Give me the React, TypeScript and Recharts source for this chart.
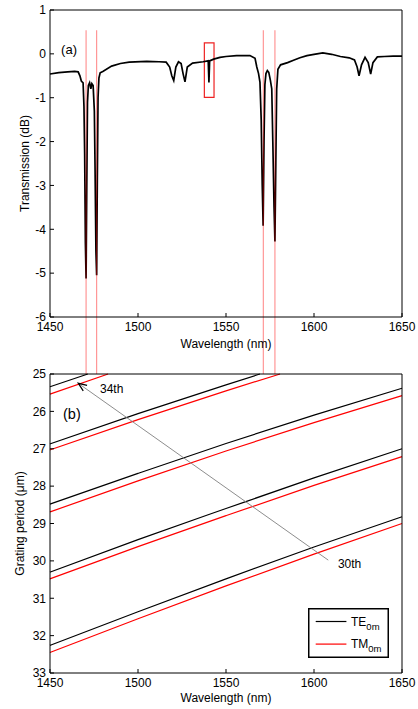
import React from 'react';
import {
  LineChart,
  Line,
  XAxis,
  YAxis,
  ReferenceLine,
  ReferenceArea,
  ReferenceDot,
  Legend,
} from 'recharts';

const FONT = '"Liberation Sans", Arial, Helvetica, sans-serif';

// ---- (a) measured transmission spectrum ----
const specWl = [
  1450, 1455, 1460, 1464, 1466, 1467, 1467.8, 1468.8, 1469.3, 1469.7, 1470.1, 1470.5, 1470.9,
  1471.3, 1471.8, 1472.5, 1473.2, 1473.8, 1474.5, 1475.2, 1475.6, 1476.1, 1476.5, 1476.9, 1477.3,
  1477.8, 1478.5, 1480, 1485, 1490, 1495, 1505, 1512, 1516, 1518, 1519.2, 1520.3, 1521.5, 1523,
  1524.5, 1525.6, 1526.7, 1528, 1531, 1537, 1539.9, 1540.3, 1540.7, 1543, 1546.6, 1550, 1556,
  1563.6, 1566.5, 1567.5, 1568.5, 1569.3, 1570, 1570.6, 1571.1, 1571.6, 1572.1, 1572.7, 1573.5,
  1574.3, 1575.2, 1576, 1576.6, 1577.3, 1577.8, 1578.3, 1578.8, 1579.5, 1581, 1585, 1588, 1592,
  1596, 1600, 1605, 1610, 1615, 1620, 1623, 1624.5, 1625.6, 1627, 1629, 1630.8, 1632.2, 1633.5,
  1636, 1640, 1645, 1650,
];
const specDb = [
  -0.46, -0.43, -0.41, -0.4, -0.41, -0.5, -0.62, -0.66, -1.2, -2.3, -4.3, -5.12, -3.0,
  -1.1, -0.72, -0.66, -0.8, -0.68, -0.72, -1.3, -2.6, -4.5, -5.05, -2.8, -1.0,
  -0.55, -0.43, -0.4, -0.28, -0.22, -0.19, -0.17, -0.18, -0.19, -0.3, -0.5, -0.61, -0.3, -0.18,
  -0.22, -0.45, -0.64, -0.3, -0.21, -0.18, -0.16, -0.65, -0.16, -0.12, -0.08, -0.06, -0.04,
  -0.04, -0.1, -0.3, -0.45, -0.65, -1.5, -3.0, -3.92, -2.0, -0.7, -0.45, -0.38,
  -0.42, -0.6, -0.8, -2.0, -3.5, -4.28, -2.5, -0.8, -0.35, -0.25, -0.2, -0.15, -0.09,
  -0.04, -0.01, 0.02, -0.01, -0.06, -0.09, -0.14, -0.3, -0.5, -0.25, -0.08, -0.2, -0.46, -0.2,
  -0.07, -0.06, -0.05, -0.05,
];
const specData = specWl.map((wl, i) => ({ wl, db: specDb[i] }));

const xTicks = [1450, 1500, 1550, 1600, 1650];
const dbTicks = [-6, -5, -4, -3, -2, -1, 0, 1];
const periodTicks = [25, 26, 27, 28, 29, 30, 31, 32, 33];

// red guide lines linking the dips to the 34th/33rd order curves
const guideWl = [1470.5, 1476.5, 1571.2, 1577.8];
const guideTopDb = 0.54;
const guideBottomDb = -7.3;

// red box around the small dip
const boxWl = [1537.7, 1543.2];
const boxDb = [-0.99, 0.25];

// ---- (b) grating period vs wavelength ----
const periodWl = [1450, 1500, 1550, 1600, 1650];
const te30 = [32.26, 31.36, 30.48, 29.63, 28.82];
const tm30 = [32.45, 31.55, 30.67, 29.82, 29.0];
const te31 = [30.3, 29.43, 28.6, 27.78, 27.0];
const tm31 = [30.48, 29.62, 28.79, 27.98, 27.21];
const te32 = [28.48, 27.66, 26.86, 26.1, 25.38];
const tm32 = [28.69, 27.86, 27.06, 26.3, 25.58];
const te33Wl = [1450, 1500, 1550, 1569.3];
const te33 = [26.87, 26.06, 25.29, 25.0];
const tm33Wl = [1450, 1500, 1550, 1580.7];
const tm33 = [27.03, 26.22, 25.45, 25.0];
const te34Wl = [1450, 1471.5];
const te34 = [25.34, 25.0];
const tm34Wl = [1450, 1483];
const tm34 = [25.54, 25.0];

// arrow from the 30th label to the 34th curve
const arrowFrom = { x: 1608.1, y: 29.98 };
const arrowTo = { x: 1466.1, y: 25.25 };

const mk = (wl: number[], p: number[]) => wl.map((w, i) => ({ wl: w, p: p[i] }));

const series = [
  { name: 'TE', color: '#000', data: mk(periodWl, te30), legend: true },
  { name: 'TM', color: '#ff0000', data: mk(periodWl, tm30), legend: true },
  { name: 'te31', color: '#000', data: mk(periodWl, te31) },
  { name: 'tm31', color: '#ff0000', data: mk(periodWl, tm31) },
  { name: 'te32', color: '#000', data: mk(periodWl, te32) },
  { name: 'tm32', color: '#ff0000', data: mk(periodWl, tm32) },
  { name: 'te33', color: '#000', data: mk(te33Wl, te33) },
  { name: 'tm33', color: '#ff0000', data: mk(tm33Wl, tm33) },
  { name: 'te34', color: '#000', data: mk(te34Wl, te34) },
  { name: 'tm34', color: '#ff0000', data: mk(tm34Wl, tm34) },
];
const legendNames = ['TE', 'TM'];

const axisLine = { stroke: '#000', strokeWidth: 1 };
const tickStyle = { fontSize: 12, fill: '#000', fontFamily: FONT };

const textAt = (txt: string, size: number) => (p: any) => (
  <text
    x={p.cx}
    y={p.cy}
    fontSize={size}
    fontFamily={FONT}
    fill="#000"
    dominantBaseline="central"
  >
    {txt}
  </text>
);

const xLabel = (offset: number) => (p: any) => {
  const vb = p.viewBox || {};
  return (
    <text
      x={vb.x + vb.width / 2}
      y={vb.y + offset}
      textAnchor="middle"
      fontSize={12}
      fontFamily={FONT}
      fill="#000"
    >
      Wavelength (nm)
    </text>
  );
};

const yLabel = (txt: string, cx: number) => (p: any) => {
  const vb = p.viewBox || {};
  const x = vb.x + cx;
  const y = vb.y + vb.height / 2;
  return (
    <text
      x={x}
      y={y}
      transform={`rotate(-90 ${x} ${y})`}
      textAnchor="middle"
      dominantBaseline="central"
      fontSize={12}
      fontFamily={FONT}
      fill="#000"
    >
      {txt}
    </text>
  );
};

// gray line with a black arrow head at the second point
const arrowShape = (p: any) => {
  const { x1, y1, x2, y2 } = p;
  const ang = Math.atan2(y1 - y2, x1 - x2);
  const len = 9;
  const spread = 0.38;
  const ax = x2 + len * Math.cos(ang + spread);
  const ay = y2 + len * Math.sin(ang + spread);
  const bx = x2 + len * Math.cos(ang - spread);
  const by = y2 + len * Math.sin(ang - spread);
  return (
    <g>
      <line x1={x1} y1={y1} x2={x2} y2={y2} stroke="#808080" strokeWidth={0.9} />
      <path d={`M${ax},${ay} L${x2},${y2} L${bx},${by}`} stroke="#000" strokeWidth={1.3} fill="none" />
    </g>
  );
};

const renderLegend = (props: any) => {
  const payload = (props.payload || []).filter((e: any) => legendNames.includes(e.value));
  return (
    <svg width={81} height={50} style={{ display: 'block' }}>
      <rect x={0.75} y={0.75} width={79.5} height={48.5} fill="#fff" stroke="#000" strokeWidth={1.5} />
      {payload.map((entry: any, i: number) => {
        const y = 13.5 + i * 22.6;
        return (
          <g key={entry.value}>
            <line x1={7.7} y1={y} x2={38.4} y2={y} stroke={entry.color} strokeWidth={1.2} />
            <text x={43} y={y + 4} fontSize={12} fontFamily={FONT} fill="#000">
              {entry.value}
              <tspan fontSize={9.5} dy={4}>0m</tspan>
            </text>
          </g>
        );
      })}
    </svg>
  );
};

export default function App() {
  return (
    <div
      style={{
        position: 'absolute',
        left: 0,
        top: 0,
        width: 418,
        height: 709,
        background: '#fff',
        fontFamily: FONT,
      }}
    >
      <div style={{ position: 'absolute', left: 0, top: 0 }}>
        <LineChart width={418} height={376} data={specData} margin={{ top: 0, right: 0, bottom: 19, left: 0 }}>
          <XAxis
            dataKey="wl"
            type="number"
            domain={[1450, 1650]}
            ticks={xTicks}
            height={40}
            tickSize={-4}
            tickMargin={9}
            axisLine={axisLine}
            tickLine={axisLine}
            tick={tickStyle}
            label={xLabel(31)}
          />
          <XAxis
            xAxisId="top"
            orientation="top"
            dataKey="wl"
            type="number"
            domain={[1450, 1650]}
            ticks={xTicks}
            height={10}
            tickSize={-4}
            axisLine={axisLine}
            tickLine={axisLine}
            tick={false}
          />
          <YAxis
            type="number"
            domain={[-6, 1]}
            ticks={dbTicks}
            width={50}
            tickSize={-4}
            tickMargin={8}
            axisLine={axisLine}
            tickLine={axisLine}
            tick={tickStyle}
            label={yLabel('Transmission (dB)', 25)}
          />
          <YAxis
            yAxisId="right"
            orientation="right"
            type="number"
            domain={[-6, 1]}
            ticks={dbTicks}
            width={16}
            tickSize={-4}
            axisLine={axisLine}
            tickLine={axisLine}
            tick={false}
          />
          <Line
            type="linear"
            dataKey="db"
            stroke="#000"
            strokeWidth={1.7}
            dot={false}
            isAnimationActive={false}
          />
          <ReferenceArea
            x1={boxWl[0]}
            x2={boxWl[1]}
            y1={boxDb[0]}
            y2={boxDb[1]}
            fill="none"
            fillOpacity={0}
            stroke="#ee2222"
            strokeWidth={1.2}
            ifOverflow="visible"
          />
          {guideWl.map((wl) => (
            <ReferenceLine
              key={wl}
              segment={[
                { x: wl, y: guideTopDb },
                { x: wl, y: guideBottomDb },
              ]}
              stroke="#ff0000"
              strokeOpacity={0.45}
              strokeWidth={1.1}
              ifOverflow="visible"
            />
          ))}
          <ReferenceDot x={1456.3} y={0.088} r={0} shape={textAt('(a)', 13)} />
        </LineChart>
      </div>

      <div style={{ position: 'absolute', left: 0, top: 340 }}>
        <LineChart width={418} height={369} margin={{ top: 24, right: 0, bottom: 6, left: 0 }}>
          <XAxis
            dataKey="wl"
            type="number"
            domain={[1450, 1650]}
            ticks={xTicks}
            height={30}
            tickSize={-4}
            tickMargin={9}
            axisLine={axisLine}
            tickLine={axisLine}
            tick={tickStyle}
            label={xLabel(29)}
          />
          <XAxis
            xAxisId="top"
            orientation="top"
            dataKey="wl"
            type="number"
            domain={[1450, 1650]}
            ticks={xTicks}
            height={10}
            tickSize={-4}
            axisLine={axisLine}
            tickLine={axisLine}
            tick={false}
          />
          <YAxis
            type="number"
            domain={[25, 33]}
            reversed
            ticks={periodTicks}
            width={50}
            tickSize={-4}
            tickMargin={8}
            axisLine={axisLine}
            tickLine={axisLine}
            tick={tickStyle}
            label={yLabel('Grating period (μm)', 20)}
          />
          <YAxis
            yAxisId="right"
            orientation="right"
            type="number"
            domain={[25, 33]}
            reversed
            ticks={periodTicks}
            width={16}
            tickSize={-4}
            axisLine={axisLine}
            tickLine={axisLine}
            tick={false}
          />
          {series.map((s) => (
            <Line
              key={s.name}
              data={s.data}
              dataKey="p"
              name={s.name}
              type="monotone"
              stroke={s.color}
              strokeWidth={1.2}
              dot={false}
              legendType={s.legend ? 'line' : 'none'}
              isAnimationActive={false}
            />
          ))}
          <ReferenceLine segment={[arrowFrom, arrowTo]} shape={arrowShape} ifOverflow="visible" />
          <ReferenceDot x={1457.4} y={26.07} r={0} shape={textAt('(b)', 14.5)} />
          <ReferenceDot x={1478.4} y={25.4} r={0} shape={textAt('34th', 12)} />
          <ReferenceDot x={1613.6} y={30.08} r={0} shape={textAt('30th', 12)} />
          <Legend
            layout="horizontal"
            verticalAlign="middle"
            align="center"
            content={renderLegend}
            wrapperStyle={{ position: 'absolute', left: 308, top: 268, width: 81, height: 50 }}
          />
        </LineChart>
      </div>
    </div>
  );
}
